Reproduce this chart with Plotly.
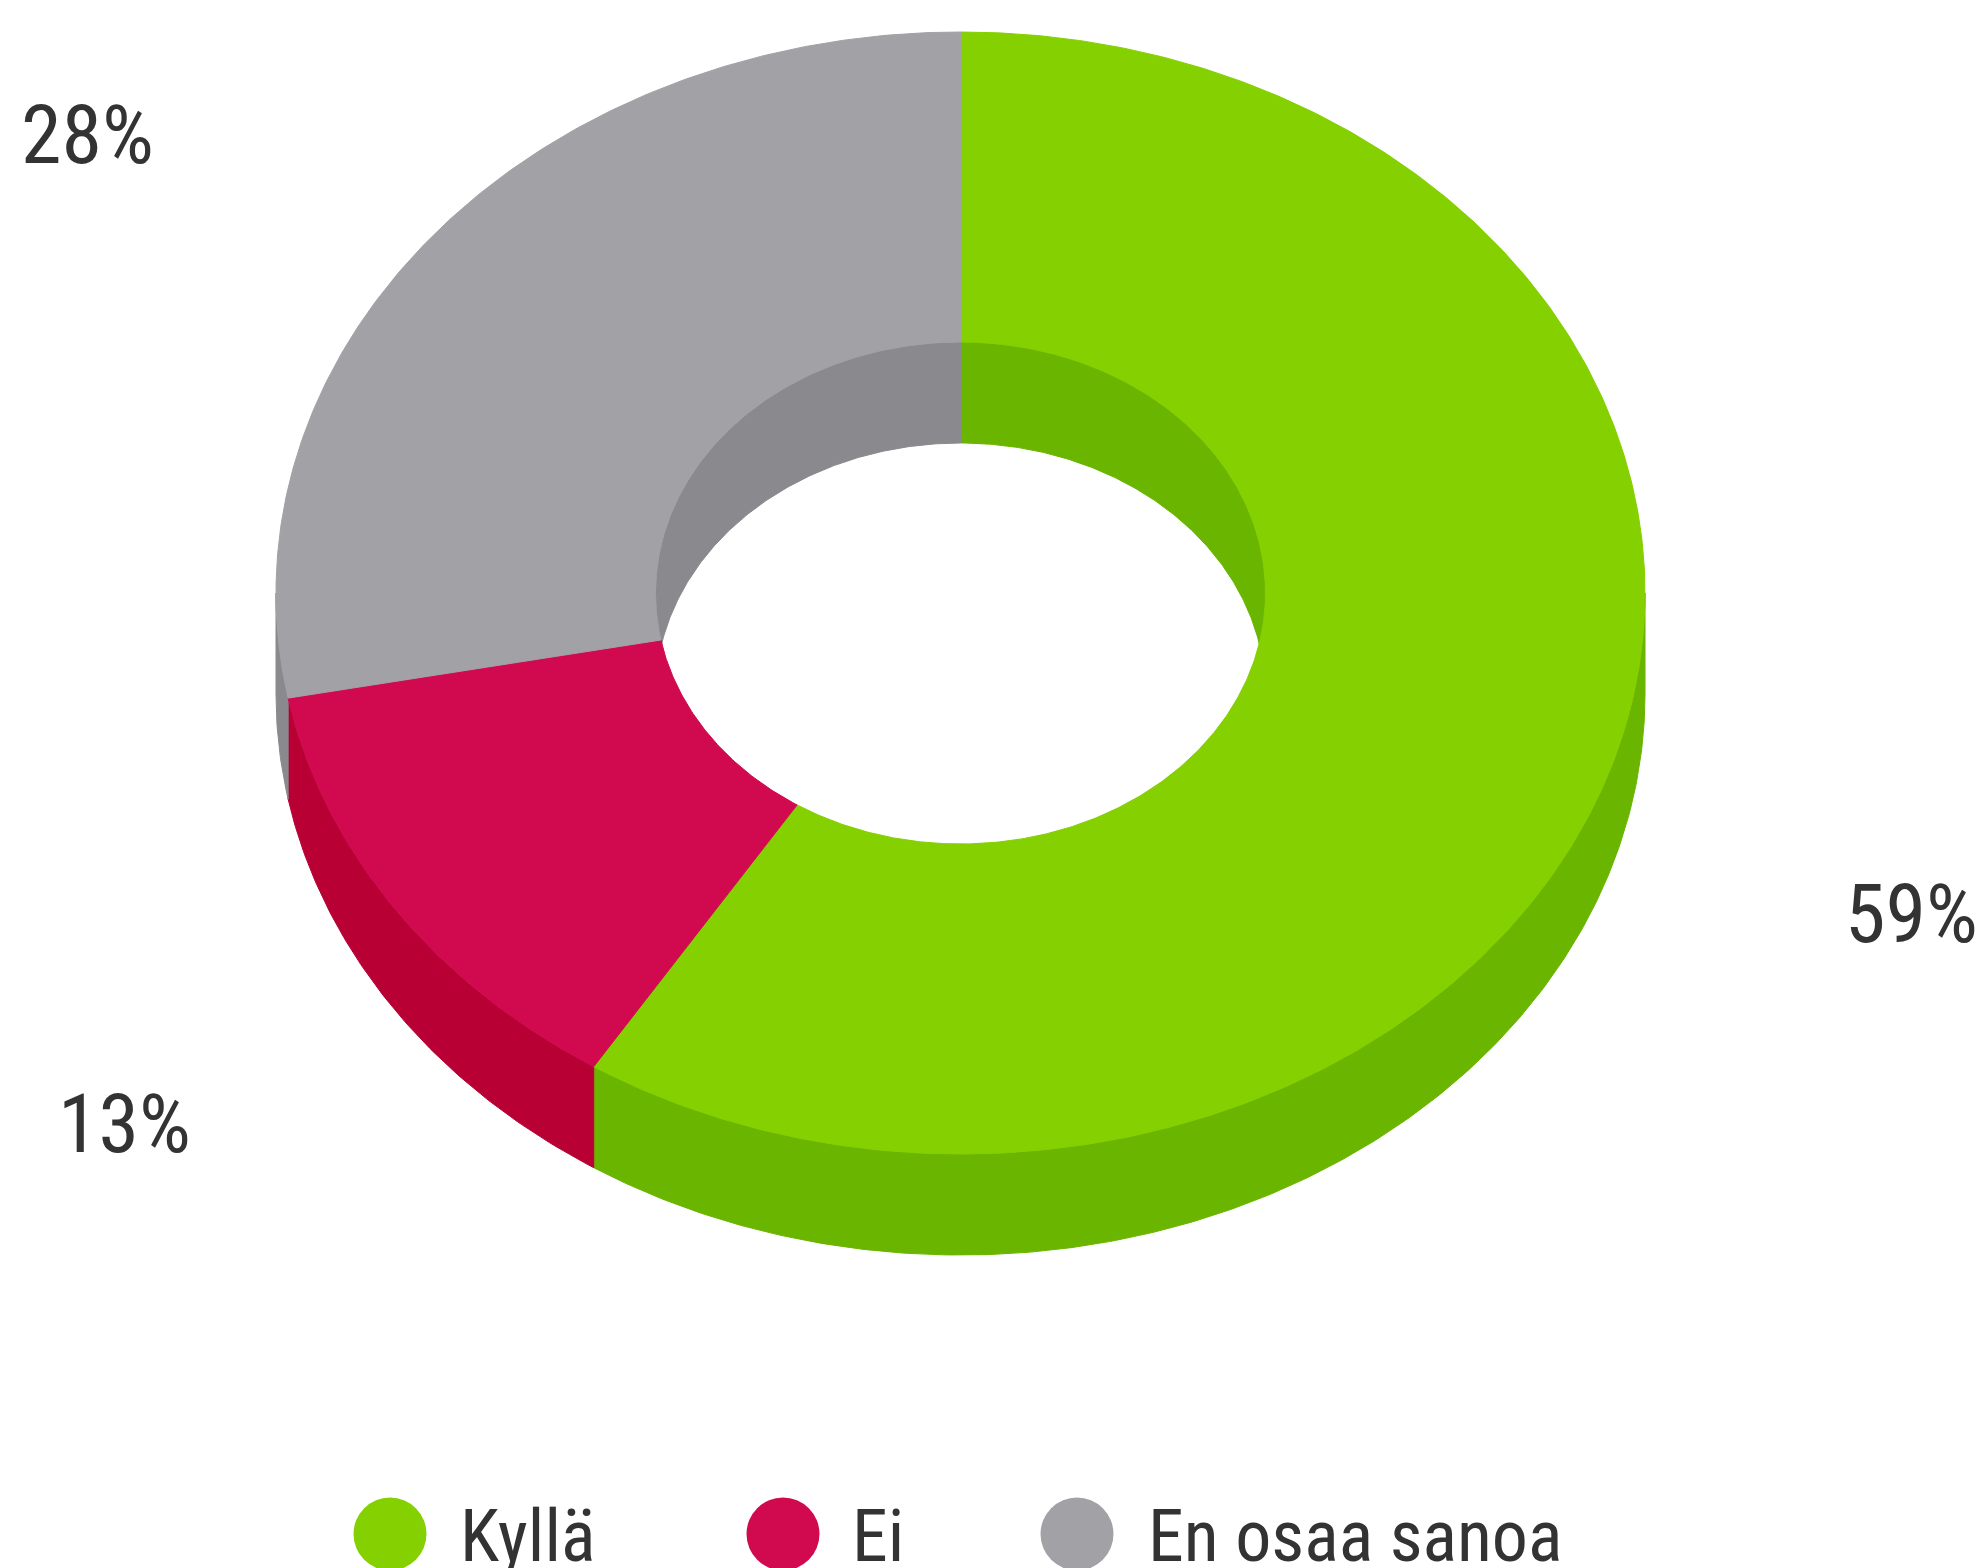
import numpy as np
import plotly.graph_objects as go

# ---- data ----
categories = ["Kyllä", "Ei", "En osaa sanoa"]
values = [59, 13, 28]
top_colors = ["#84D000", "#D10A4F", "#A2A1A6"]
side_colors = ["#6AB500", "#B90035", "#8A898E"]

# ---- geometry of the tilted donut (pixel space) ----
W, H = 1984, 1568
CX, CY = 960.5, 593.0
RX_O, RY_O = 684.5, 561.0
RX_I, RY_I = 305.0, 251.0
THICK = 101.0

FONT = "Roboto Condensed, Liberation Sans Narrow, DejaVu Sans Condensed, Roboto, sans-serif"
TXT = "#333333"


def arc(a, b, rx, ry, dy=0.0, n=None):
    if n is None:
        n = max(2, int(abs(b - a) / (2 * np.pi) * 720) + 2)
    th = np.linspace(a, b, n)
    return CX + rx * np.sin(th), CY - ry * np.cos(th) + dy


fig = go.Figure()

total = float(sum(values))
bounds = []
acc = 0.0
for v in values:
    a = acc / total * 2 * np.pi
    acc += v
    b = acc / total * 2 * np.pi
    bounds.append((a, b))


def poly(xs, ys, color, name):
    fig.add_trace(go.Scatter(
        x=list(xs), y=list(ys), mode="lines", fill="toself",
        fillcolor=color, line=dict(color=color, width=1),
        hoverinfo="skip", showlegend=False, name=name))


# outer walls (front half: pi/2 .. 3pi/2)
for (a, b), c, cat in zip(bounds, side_colors, categories):
    s, e = max(a, np.pi / 2), min(b, 3 * np.pi / 2)
    if e > s:
        x1, y1 = arc(s, e, RX_O, RY_O)
        x2, y2 = arc(e, s, RX_O, RY_O, THICK)
        poly(np.r_[x1, x2, x1[:1]], np.r_[y1, y2, y1[:1]], c, cat)

# inner walls (back half: -pi/2 .. pi/2, i.e. 3pi/2..2pi and 0..pi/2)
for (a, b), c, cat in zip(bounds, side_colors, categories):
    for lo, hi in [(0.0, np.pi / 2), (3 * np.pi / 2, 2 * np.pi)]:
        s, e = max(a, lo), min(b, hi)
        if e > s:
            x1, y1 = arc(s, e, RX_I, RY_I)
            x2, y2 = arc(e, s, RX_I, RY_I, THICK)
            poly(np.r_[x1, x2, x1[:1]], np.r_[y1, y2, y1[:1]], c, cat)

# top faces
for (a, b), c, cat in zip(bounds, top_colors, categories):
    x1, y1 = arc(a, b, RX_O, RY_O)
    x2, y2 = arc(b, a, RX_I, RY_I)
    poly(np.r_[x1, x2, x1[:1]], np.r_[y1, y2, y1[:1]], c, cat)

# ---- percentage labels ----
label_pos = [(1911, 914), (124, 1124), (87, 135)]
for v, (lx, ly) in zip(values, label_pos):
    fig.add_annotation(x=lx, y=ly, xref="x", yref="y", text=f"{v}%",
                       showarrow=False, xanchor="center", yanchor="middle",
                       font=dict(family=FONT, size=82, color=TXT))

# ---- legend (drawn) ----
leg_circle_x = [390, 783, 1077]
leg_text_x = [458, 850, 1146]
LEG_Y = 1534
R = 36.5
for cat, col, mx, tx in zip(categories, top_colors, leg_circle_x, leg_text_x):
    fig.add_shape(type="circle", xref="x", yref="y",
                  x0=mx - R, x1=mx + R, y0=LEG_Y - R, y1=LEG_Y + R,
                  fillcolor=col, line=dict(width=0))
    fig.add_annotation(x=tx, y=1536, xref="x", yref="y", text=cat,
                       showarrow=False, xanchor="left", yanchor="middle",
                       font=dict(family=FONT, size=72, color=TXT))

fig.update_layout(
    width=W, height=H,
    margin=dict(l=0, r=0, t=0, b=0),
    paper_bgcolor="white", plot_bgcolor="white",
    xaxis=dict(range=[0, W], visible=False, fixedrange=True),
    yaxis=dict(range=[H, 0], visible=False, fixedrange=True),
    showlegend=False,
)

fig.write_html("out.html", config={"displayModeBar": False},
               post_script="document.body.style.margin='0px';")
